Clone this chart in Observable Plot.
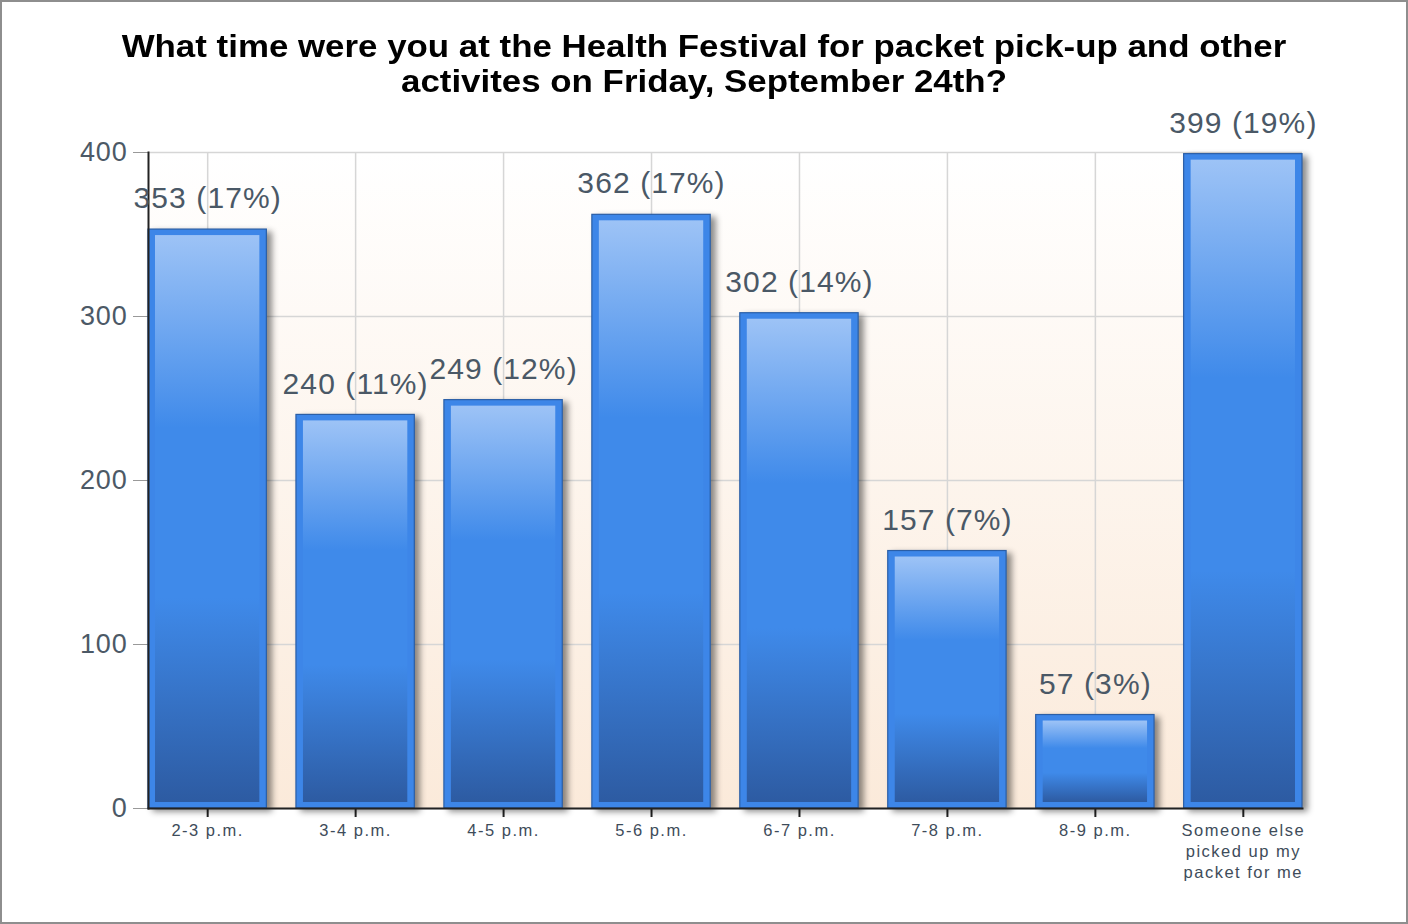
<!DOCTYPE html>
<html>
<head>
<meta charset="utf-8">
<script src="https://cdn.jsdelivr.net/npm/d3@7"></script>
<script src="https://cdn.jsdelivr.net/npm/@observablehq/plot@0.6"></script>
<style>
  html, body { margin: 0; padding: 0; background: #ffffff; }
  #wrap { position: relative; width: 1408px; height: 924px; overflow: hidden; background: #fff; }
  #border { position: absolute; left: 0; top: 0; width: 1408px; height: 924px; box-sizing: border-box; border: 2px solid #8e8e8e; pointer-events: none; }
  #title { position: absolute; left: 0; top: 29px; width: 1408px; text-align: center;
    font-family: "Liberation Sans", Arial, sans-serif; font-weight: bold; font-size: 31px; line-height: 35px; color: #000;
    transform: scaleX(1.125); transform-origin: 704px 0; }
  #chart { position: absolute; left: 0; top: 100px; }
  #chart g[aria-label="x-axis tick label"] text { letter-spacing: 1.5px; }
  #chart g[aria-label="text"] text { letter-spacing: 1.1px; }
  #chart g[aria-label="y-axis tick label"] text { letter-spacing: 0.8px; }
</style>
</head>
<body>
<div id="wrap">
  <svg width="0" height="0" style="position:absolute">
    <defs>
      <linearGradient id="bgGrad" x1="0" y1="0" x2="0" y2="1">
        <stop offset="0" stop-color="#ffffff"/>
        <stop offset="1" stop-color="#fbeada"/>
      </linearGradient>
      <linearGradient id="barGrad" x1="0" y1="0" x2="0" y2="1">
        <stop offset="0" stop-color="#9dc3f6"/>
        <stop offset="0.34" stop-color="#3f8aea"/>
        <stop offset="0.64" stop-color="#3f8aea"/>
        <stop offset="1" stop-color="#2d5ba2"/>
      </linearGradient>
    </defs>
  </svg>
  <div id="title">What time were you at the Health Festival for packet pick-up and other<br>activites on Friday, September 24th?</div>
  <div id="chart"></div>
  <div id="border"></div>
</div>
<script>
const categories = ["2-3 p.m.", "3-4 p.m.", "4-5 p.m.", "5-6 p.m.", "6-7 p.m.", "7-8 p.m.", "8-9 p.m.", "Someone else picked up my packet for me"];
const tickLabels = ["2-3 p.m.", "3-4 p.m.", "4-5 p.m.", "5-6 p.m.", "6-7 p.m.", "7-8 p.m.", "8-9 p.m.", "Someone else\npicked up my\npacket for me"];
const counts = [353, 240, 249, 362, 302, 157, 57, 399];
const percents = [17, 11, 12, 17, 14, 7, 3, 19];
const yTicks = [0, 100, 200, 300, 400];

const data = categories.map((c, i) => ({category: c, count: counts[i], pct: percents[i]}));
const tickMap = new Map(categories.map((c, i) => [c, tickLabels[i]]));

const chart = Plot.plot({
  width: 1408,
  height: 824,
  marginLeft: 148,
  marginRight: 106,
  marginTop: 52,
  marginBottom: 116,
  style: {background: "transparent", fontFamily: "'Liberation Sans', Arial, sans-serif", overflow: "visible"},
  x: {domain: categories, paddingInner: 0.2, paddingOuter: 0, round: false, axis: null},
  y: {domain: [0, 400], axis: null},
  marks: [
    Plot.frame({fill: "url(#bgGrad)", stroke: null}),
    Plot.gridY(yTicks, {stroke: "#d6d6d6", strokeOpacity: 1, strokeWidth: 1.5}),
    Plot.gridX(categories, {stroke: "#d6d6d6", strokeOpacity: 1, strokeWidth: 1.5}),
    Plot.axisY(yTicks, {label: null, tickSize: 15, tickPadding: 6, stroke: "#999", fontSize: 27, fill: "#4c5966", tickFormat: d => String(d)}),
    Plot.axisX(categories, {label: null, tickSize: 9, tickPadding: 4, stroke: "#222", strokeWidth: 2, fontSize: 16.5, fill: "#3e4c5a", lineHeight: 1.27, tickFormat: d => tickMap.get(d)}),
    Plot.barY(data, {x: "category", y: "count", fill: "#3d86e8", stroke: "#2a5ea6", strokeWidth: 1.2}),
    Plot.barY(data, {x: "category", y: "count", fill: "url(#barGrad)", insetLeft: 7, insetRight: 7, insetTop: 6, insetBottom: 6}),
    Plot.frame({anchor: "left", stroke: "#222", strokeWidth: 2}),
    Plot.frame({anchor: "bottom", stroke: "#222", strokeWidth: 2}),
    Plot.text(data, {x: "category", y: "count", text: d => `${d.count} (${d.pct}%)`, dy: -31, fontSize: 30, fill: "#4a5866"})
  ]
});

// drop shadow on outer bars
const barGroups = d3.select(chart).selectAll("g[aria-label='bar']");
barGroups.filter((d, i) => i === 0).style("filter", "drop-shadow(5px 3px 3px rgba(0,0,0,0.45))");

document.getElementById("chart").appendChild(chart);
</script>
</body>
</html>
